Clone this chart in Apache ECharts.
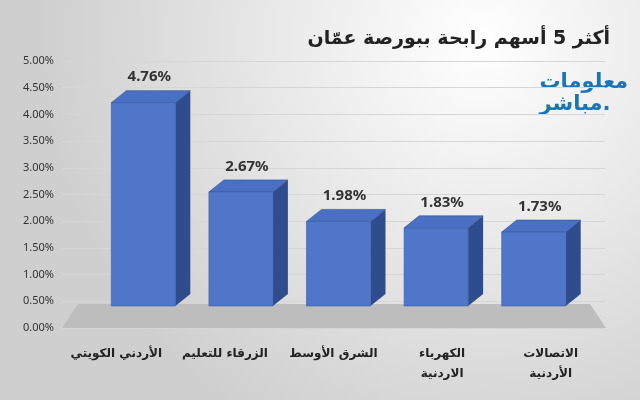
<!DOCTYPE html>
<html><head><meta charset="utf-8">
<script src="https://cdn.jsdelivr.net/npm/echarts@6/dist/echarts.min.js"></script>
<style>html,body{margin:0;padding:0}#c{width:640px;height:400px}</style>
</head><body><div id="c"></div>
<script>
var categories = ['الأردني الكويتي', 'الزرقاء للتعليم', 'الشرق الأوسط', 'الكهرباء\nالاردنية', 'الاتصالات\nالأردنية'];
var values = [4.76, 2.67, 1.98, 1.83, 1.73];
var titleText = 'أكثر 5 أسهم رابحة ببورصة عمّان';

var chart = echarts.init(document.getElementById('c'));
var font = '"Noto Sans","DejaVu Sans",sans-serif';

function renderBar(params, api) {
    var v = api.value(1);
    var p0 = api.coord([api.value(0), 0]);
    var pv = api.coord([api.value(0), v]);
    var w = 64, dx = 15, dy = 12;
    var x = p0[0] - 5 - params.dataIndex * 11;
    var yb = p0[1] - 22;
    var yt = yb - (p0[1] - pv[1]) * 0.8;
    return {
        type: 'group',
        children: [
            { type: 'polygon', shape: { points: [[x + w, yb], [x + w + dx, yb - dy], [x + w + dx, yt - dy], [x + w, yt]] }, style: { fill: '#2f4d8c' } },
            { type: 'polygon', shape: { points: [[x, yt], [x + dx, yt - dy], [x + w + dx, yt - dy], [x + w, yt]] }, style: { fill: '#4a70c4', stroke: '#33538f', lineWidth: 0.6 } },
            { type: 'rect', shape: { x: x, y: yt, width: w, height: yb - yt }, style: { fill: '#4f76c9', stroke: '#3b5ea8', lineWidth: 0.6 } },
            { type: 'text', style: { text: v.toFixed(2) + '%', x: x + w / 2 + 6, y: yt - dy - 6, align: 'center', verticalAlign: 'bottom', font: 'bold 15px ' + font, fill: '#333' } }
        ]
    };
}

chart.setOption({
    backgroundColor: {
        type: 'radial', x: 0.75, y: 0.1, r: 1.1,
        colorStops: [{ offset: 0, color: '#ffffff' }, { offset: 1, color: '#cfcfcf' }]
    },
    graphic: [
        { type: 'polygon', z: 0, shape: { points: [[62, 328], [606, 328], [590, 304], [78, 304]] }, style: { fill: '#bdbdbd' } },
        { type: 'text', right: 30, top: 30, style: { text: titleText, font: 'bold 19px "DejaVu Sans",sans-serif', fill: '#222' } },
        { type: 'text', right: 12, top: 72, style: { text: 'معلومات\nمباشر.', font: 'bold 21px "DejaVu Sans",sans-serif', fill: '#1c74b8', lineHeight: 22, align: 'right' } }
    ],
    grid: { left: 62, right: 35, top: 61, bottom: 72 },
    xAxis: {
        type: 'category', data: categories,
        axisLine: { show: false }, axisTick: { show: false },
        axisLabel: { interval: 0, fontFamily: '"DejaVu Sans",sans-serif', fontWeight: 'bold', fontSize: 12, color: '#222', margin: 16, lineHeight: 20 }
    },
    yAxis: {
        type: 'value', min: 0, max: 5, interval: 0.5,
        axisLabel: { formatter: function (v) { return v.toFixed(2) + '%'; }, fontFamily: font, fontSize: 11, color: '#333' },
        splitLine: { lineStyle: { color: '#d6d6d6' } }
    },
    series: [{
        type: 'custom', renderItem: renderBar,
        data: values.map(function (v, i) { return [i, v]; })
    }]
});
</script></body></html>
